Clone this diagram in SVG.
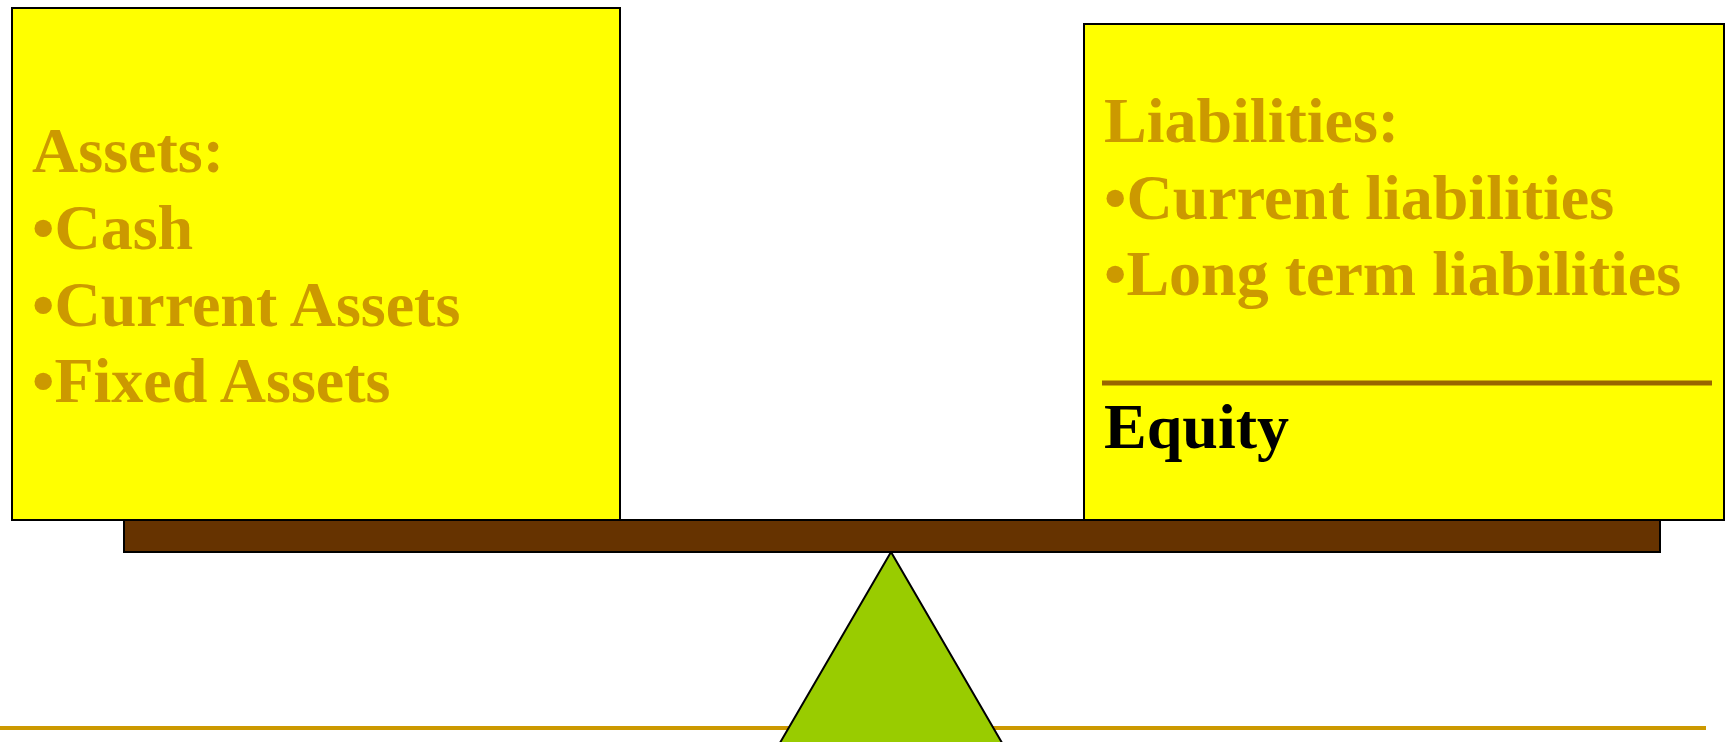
<svg xmlns="http://www.w3.org/2000/svg" width="1727" height="742" viewBox="0 0 1727 742">
  <style>
    .pan { fill: #FFFF00; stroke: #000000; stroke-width: 2; }
    .label { font-family: "Liberation Serif", "Times New Roman", serif; font-weight: bold; font-size: 64px; fill: #CC9900; }
    .equity { fill: #000000; }
  </style>
  <rect width="1727" height="742" fill="#FFFFFF"/>

  <!-- ground line -->
  <line x1="0" y1="728" x2="1706" y2="728" stroke="#CC9900" stroke-width="4"/>

  <!-- fulcrum -->
  <g id="fulcrum">
    <polygon points="891,552 770,760 1012,760" fill="#99CC00" stroke="#000000" stroke-width="2"/>
  </g>

  <!-- beam -->
  <g id="beam">
    <rect x="124" y="520" width="1536" height="32" fill="#663300" stroke="#000000" stroke-width="2"/>
  </g>

  <!-- left pan: assets -->
  <g id="assets">
    <rect class="pan" x="12" y="8" width="608" height="512"/>
    <text class="label" x="32" y="172">Assets:</text>
    <text class="label" x="32" y="249">•Cash</text>
    <text class="label" x="32" y="326">•Current Assets</text>
    <text class="label" x="32" y="402">•Fixed Assets</text>
  </g>

  <!-- right pan: liabilities and equity -->
  <g id="liabilities-equity">
    <rect class="pan" x="1084" y="24" width="640" height="496"/>
    <text class="label" x="1104" y="142">Liabilities:</text>
    <text class="label" x="1104" y="219">•Current liabilities</text>
    <text class="label" x="1104" y="295">•Long term liabilities</text>
    <line x1="1102" y1="383" x2="1712" y2="383" stroke="#996600" stroke-width="5"/>
    <text class="label equity" x="1104" y="448">Equity</text>
  </g>
</svg>
